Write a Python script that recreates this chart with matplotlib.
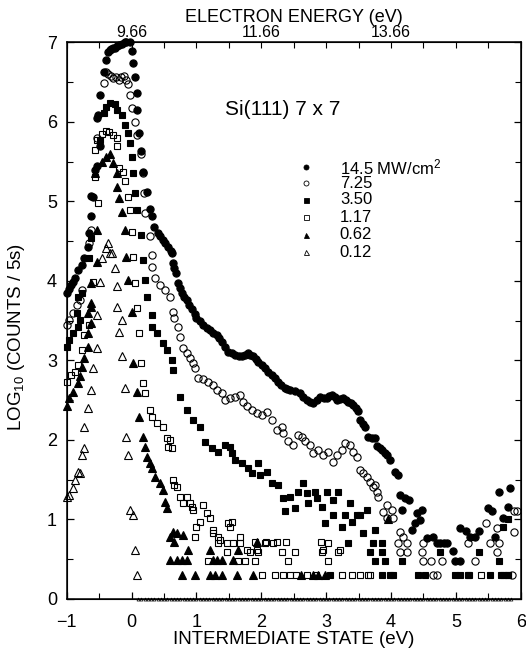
"""
Si(111) 7x7 two-photon photoemission: log10 counts vs intermediate state energy
for six laser power densities.
"""

import matplotlib
matplotlib.use("Agg")
import matplotlib.pyplot as plt
from matplotlib.ticker import MultipleLocator

# ============================================================
# Global config
# ============================================================
plt.rcParams['font.family'] = ['Liberation Sans', 'DejaVu Sans']
plt.rcParams['mathtext.fontset'] = 'custom'
plt.rcParams['mathtext.rm'] = 'Liberation Sans'
plt.rcParams['mathtext.default'] = 'regular'

OUTPUT_PATH = "out.png"

# ============================================================
# Data
# ============================================================
# 14.5 MW/cm2 -- filled circles
p145_x = [-1.00, -0.96, -0.93, -0.91, -0.87, -0.83, -0.77, -0.73, -0.68, -0.65,
          -0.62, -0.62, -0.59, -0.57, -0.53, -0.49, -0.54, -0.52, -0.49, -0.43,
          -0.40, -0.37, -0.34, -0.32, -0.29, -0.26, -0.23, -0.20, -0.15, -0.11,
          -0.08, -0.03, 0.00, 0.02, 0.05, 0.08, 0.09, 0.12, 0.15, 0.17,
          0.23, 0.28, 0.31, 0.34, 0.40, 0.44, 0.48, 0.52, 0.56, 0.60,
          0.62, 0.63, 0.66, 0.68, 0.71, 0.74, 0.77, 0.81, 0.85, 0.89,
          0.93, 0.97, 1.00, 1.05, 1.10, 1.16, 1.21, 1.26, 1.31, 1.35,
          1.39, 1.44, 1.48, 1.54, 1.59, 1.65, 1.70, 1.75, 1.79, 1.83,
          1.87, 1.91, 1.95, 2.01, 2.06, 2.11, 2.16, 2.21, 2.26, 2.31,
          2.36, 2.40, 2.44, 2.52, 2.60, 2.65, 2.70, 2.75, 2.80, 2.86,
          2.91, 2.96, 3.01, 3.05, 3.09, 3.13, 3.17, 3.22, 3.26, 3.30,
          3.34, 3.38, 3.42, 3.46, 3.49, 3.52, 3.56, 3.60, 3.65, 3.70,
          3.76, 3.79, 3.83, 3.86, 3.90, 3.94, 3.99, 4.06, 4.10, 4.14,
          4.22, 4.27, 4.17, 4.40, 4.45, 4.37, 4.33, 4.48, 4.56, 4.65,
          4.71, 4.76, 4.81, 4.87, 4.95, 4.99, 5.07, 5.07, 5.15, 5.22,
          5.30, 5.35, 5.49, 5.56, 5.66, 5.73, 5.80, 5.84, 5.61]
p145_y = [3.85, 3.90, 3.95, 3.98, 4.04, 4.14, 4.20, 4.29, 4.43, 4.60,
          4.81, 5.07, 5.06, 5.40, 5.44, 5.69, 6.05, 6.08, 6.34, 6.63,
          6.78, 6.88, 6.90, 6.92, 6.93, 6.93, 6.95, 6.96, 6.98, 7.00,
          7.00, 7.00, 6.89, 6.74, 6.57, 6.36, 6.15, 5.86, 5.63, 5.37,
          5.12, 4.91, 4.81, 4.68, 4.60, 4.56, 4.52, 4.47, 4.43, 4.38,
          4.35, 4.22, 4.16, 4.10, 3.97, 3.91, 3.85, 3.80, 3.76, 3.70,
          3.64, 3.58, 3.53, 3.49, 3.45, 3.41, 3.38, 3.35, 3.32, 3.28,
          3.23, 3.17, 3.11, 3.09, 3.07, 3.06, 3.05, 3.07, 3.09, 3.07,
          3.05, 3.02, 2.98, 2.94, 2.90, 2.86, 2.82, 2.78, 2.73, 2.69,
          2.65, 2.64, 2.63, 2.61, 2.59, 2.54, 2.50, 2.48, 2.46, 2.50,
          2.54, 2.53, 2.53, 2.55, 2.57, 2.54, 2.50, 2.52, 2.53, 2.50,
          2.48, 2.46, 2.44, 2.40, 2.36, 2.25, 2.20, 2.16, 2.04, 2.03,
          2.03, 1.92, 1.90, 1.87, 1.84, 1.81, 1.75, 1.60, 1.56, 1.31,
          1.27, 1.25, 1.12, 1.08, 0.99, 0.95, 0.87, 1.12, 0.77, 0.78,
          0.70, 0.70, 0.70, 0.70, 0.60, 0.48, 0.48, 0.89, 0.85, 0.78,
          0.78, 0.85, 1.14, 1.10, 1.35, 1.02, 1.16, 1.40, 0.78]

# 7.25 MW/cm2 -- open circles
p725_x = [-1.00, -0.96, -0.91, -0.85, -0.80, -0.77, -0.65, -0.62, -0.54, -0.42,
          -0.39, -0.36, -0.32, -0.28, -0.24, -0.20, -0.16, -0.12, -0.08, -0.05,
          -0.03, 0.00, 0.05, 0.08, 0.14, 0.17, 0.19, 0.20, 0.28, 0.31,
          0.32, 0.36, 0.43, 0.51, 0.59, 0.63, 0.66, 0.71, 0.74, 0.79,
          0.85, 0.90, 0.94, 0.97, 1.02, 1.10, 1.17, 1.25, 1.31, 1.39,
          1.44, 1.51, 1.59, 1.67, 1.72, 1.78, 1.85, 1.93, 2.01, 2.09,
          2.16, 2.24, 2.32, 2.33, 2.41, 2.49, 2.57, 2.63, 2.67, 2.75,
          2.80, 2.87, 2.95, 3.03, 3.11, 3.17, 3.25, 3.29, 3.37, 3.42,
          3.48, 3.52, 3.57, 3.63, 3.68, 3.72, 3.76, 3.79, 3.80, 3.94,
          3.88, 4.02, 3.94, 4.03, 4.14, 4.19, 4.25, 4.11, 4.14, 4.25,
          4.48, 4.50, 4.50, 4.61, 4.78, 4.65, 4.71, 5.18, 5.30, 5.46,
          5.53, 5.64, 5.66, 5.64, 5.89, 5.95, 5.89, 5.87]
p725_y = [3.45, 3.51, 3.60, 3.70, 3.76, 3.89, 4.48, 4.64, 5.80, 6.49,
          6.63, 6.60, 6.58, 6.55, 6.56, 6.53, 6.57, 6.58, 6.52, 6.47,
          6.34, 6.17, 6.00, 5.84, 5.60, 5.36, 5.10, 4.85, 4.56, 4.33,
          4.18, 4.04, 3.95, 3.89, 3.80, 3.61, 3.53, 3.42, 3.30, 3.16,
          3.09, 3.03, 2.97, 2.90, 2.78, 2.76, 2.73, 2.69, 2.63, 2.59,
          2.50, 2.53, 2.54, 2.57, 2.48, 2.42, 2.38, 2.34, 2.31, 2.35,
          2.25, 2.13, 2.16, 2.09, 1.98, 1.94, 2.06, 2.04, 1.98, 1.94,
          1.84, 1.87, 1.81, 1.85, 1.72, 1.81, 1.87, 1.96, 1.94, 1.85,
          1.79, 1.62, 1.58, 1.53, 1.47, 1.41, 1.43, 1.35, 1.28, 1.18,
          1.09, 1.12, 1.02, 1.02, 0.84, 0.78, 0.70, 0.70, 0.59, 0.59,
          0.59, 0.70, 0.48, 0.48, 0.48, 0.30, 0.30, 0.70, 0.48, 0.95,
          0.70, 0.59, 0.70, 0.89, 1.10, 1.10, 0.84, 0.30]

# 3.50 MW/cm2 -- filled squares
p350_x = [-1.00, -0.96, -0.91, -0.83, -0.80, -0.85, -0.83, -0.77, -0.65, -0.62,
          -0.49, -0.42, -0.39, -0.34, -0.26, -0.22, -0.15, -0.11, -0.06, -0.03,
          0.00, 0.02, 0.05, 0.09, 0.15, 0.17, 0.20, 0.23, 0.31, 0.32,
          0.39, 0.48, 0.54, 0.62, 0.63, 0.74, 0.85, 0.94, 1.05, 1.13,
          1.24, 1.33, 1.44, 1.51, 1.55, 1.59, 1.70, 1.79, 1.85, 1.95,
          1.98, 2.09, 2.16, 2.26, 2.33, 2.36, 2.44, 2.52, 2.57, 2.64,
          2.70, 2.72, 2.83, 2.86, 2.94, 2.98, 3.01, 3.11, 3.11, 3.18,
          3.25, 3.29, 3.37, 3.40, 3.48, 3.52, 3.57, 3.63, 3.34, 3.06,
          3.76, 3.72, 3.86, 3.68, 3.86, 3.76, 3.91, 4.17, 3.99, 4.42,
          4.53, 4.76, 4.79, 4.99, 5.07, 5.18, 5.35, 5.66, 5.53, 5.69,
          5.81, 5.80, 5.73, 3.86, 4.03]
p350_y = [3.17, 3.26, 3.35, 3.42, 3.51, 3.60, 3.80, 3.85, 4.29, 4.54,
          5.77, 6.11, 6.19, 6.24, 6.22, 6.15, 6.09, 5.96, 5.86, 5.73,
          5.56, 5.36, 5.10, 4.89, 4.58, 4.26, 4.01, 3.80, 3.57, 3.42,
          3.35, 3.22, 3.13, 3.01, 2.88, 2.54, 2.38, 2.25, 2.16, 1.97,
          1.90, 1.85, 1.94, 1.91, 1.84, 1.75, 1.71, 1.65, 1.58, 1.71,
          1.56, 1.60, 1.46, 1.43, 1.27, 1.10, 1.28, 1.14, 1.35, 1.46,
          1.33, 1.21, 1.35, 1.27, 1.16, 0.95, 1.35, 1.25, 1.06, 1.35,
          0.91, 1.06, 1.21, 0.97, 1.06, 1.06, 0.83, 1.12, 0.70, 0.30,
          0.87, 0.70, 0.70, 0.59, 0.59, 0.48, 0.48, 0.48, 0.30, 0.30,
          0.30, 0.59, 0.70, 0.30, 0.30, 0.30, 0.59, 0.48, 0.30, 0.30,
          0.30, 1.00, 0.90, 0.30, 0.30]

# 1.17 MW/cm2 -- open squares
p117_x = [-0.99, -0.93, -0.88, -0.83, -0.77, -0.73, -0.65, -0.60, -0.52, -0.57,
          -0.57, -0.54, -0.45, -0.40, -0.35, -0.29, -0.23, -0.22, -0.19, -0.14,
          -0.11, -0.06, -0.03, 0.00, 0.02, 0.05, 0.08, 0.12, 0.15, 0.17,
          0.20, 0.28, 0.32, 0.39, 0.48, 0.54, 0.56, 0.59, 0.62, 0.63,
          0.66, 0.70, 0.74, 0.79, 0.85, 0.90, 0.93, 0.94, 1.05, 1.10,
          1.16, 1.21, 1.25, 1.00, 0.97, 1.33, 1.36, 1.48, 1.55, 1.51,
          1.67, 1.33, 1.47, 1.56, 1.67, 1.78, 1.90, 1.47, 1.93, 2.06,
          2.18, 1.82, 1.95, 2.32, 2.52, 2.94, 3.18, 3.03, 1.17, 1.64,
          1.75, 1.90, 2.41, 2.01, 2.21, 2.44, 2.70, 3.25, 3.40, 3.52,
          3.65, 2.07, 2.24, 2.38, 2.92, 2.95, 3.21, 3.03, 2.33, 2.53,
          2.84, 3.68, 5.20, 5.38, 5.72, 5.80, 1.25]
p117_y = [2.73, 2.82, 2.86, 2.94, 3.13, 3.32, 3.45, 3.99, 4.98, 5.31,
          5.65, 5.77, 5.85, 5.88, 5.87, 5.84, 5.80, 5.69, 5.42, 5.37,
          5.25, 5.06, 4.89, 4.62, 4.30, 3.97, 3.66, 3.35, 2.97, 2.72,
          2.59, 2.38, 2.29, 2.21, 2.16, 2.03, 1.91, 2.00, 1.90, 1.50,
          1.43, 1.41, 1.28, 1.21, 1.28, 1.21, 1.16, 1.12, 0.97, 1.18,
          1.08, 1.02, 0.83, 0.91, 0.78, 0.78, 0.74, 0.95, 0.97, 0.91,
          0.78, 0.70, 0.70, 0.70, 0.70, 0.62, 0.72, 0.59, 0.62, 0.70,
          0.70, 0.59, 0.59, 0.59, 0.59, 0.59, 0.59, 0.70, 0.48, 0.48,
          0.48, 0.48, 0.48, 0.30, 0.30, 0.30, 0.30, 0.30, 0.30, 0.30,
          0.30, 0.72, 0.72, 0.72, 0.72, 0.62, 0.62, 0.48, 0.30, 0.30,
          0.30, 0.30, 0.30, 0.30, 0.30, 0.30, 0.87]

# 0.62 MW/cm2 -- filled triangles
p062_x = [-1.00, -0.96, -0.91, -0.83, -0.80, -0.76, -0.73, -0.68, -0.68, -0.62,
          -0.62, -0.62, -0.68, -0.62, -0.53, -0.53, -0.57, -0.45, -0.39, -0.34,
          -0.29, -0.23, -0.22, -0.19, -0.15, -0.11, -0.08, -0.06, 0.00, 0.02,
          0.08, 0.12, 0.17, 0.20, 0.23, 0.28, 0.32, 0.36, 0.43, 0.48,
          0.51, 0.54, 0.63, 0.70, 0.59, 0.66, 0.79, 0.87, 0.59, 0.70,
          0.77, 0.85, 1.21, 1.25, 1.31, 1.39, 1.56, 1.64, 1.93, 0.77,
          0.97, 1.21, 1.28, 1.39, 1.62, 1.87, 2.61, 2.80, 2.87, 2.98,
          3.96]
p062_y = [2.42, 2.53, 2.60, 2.71, 2.80, 2.92, 3.03, 3.17, 3.35, 3.47,
          3.67, 3.72, 3.60, 3.97, 4.24, 4.64, 5.36, 5.50, 5.56, 5.59,
          5.48, 5.36, 5.18, 5.04, 4.87, 4.64, 4.30, 4.01, 3.61, 2.97,
          2.60, 2.29, 2.04, 1.91, 1.79, 1.71, 1.65, 1.53, 1.46, 1.37,
          1.22, 1.14, 0.84, 0.83, 0.78, 0.72, 0.80, 0.62, 0.49, 0.49,
          0.49, 0.49, 0.62, 0.49, 0.49, 0.49, 0.49, 0.62, 0.72, 0.30,
          0.30, 0.30, 0.30, 0.30, 0.30, 0.30, 0.30, 0.30, 0.30, 0.30,
          1.00]

# 0.12 MW/cm2 -- open triangles
p012_x = [-1.00, -0.96, -0.91, -0.88, -0.83, -0.80, -0.76, -0.73, -0.73, -0.68,
          -0.62, -0.60, -0.54, -0.53, -0.49, -0.45, -0.39, -0.37, -0.34, -0.31,
          -0.26, -0.23, -0.22, -0.15, -0.19, -0.15, -0.11, -0.08, -0.06, -0.03,
          0.02, 0.05, 0.08]
p012_y = [1.28, 1.31, 1.40, 1.50, 1.60, 1.58, 1.81, 1.90, 2.16, 2.40,
          2.63, 2.90, 3.16, 3.57, 3.99, 4.29, 4.41, 4.48, 4.35, 4.35,
          4.16, 3.93, 3.67, 3.51, 3.36, 3.05, 2.65, 2.04, 1.81, 1.12,
          1.06, 0.62, 0.30]

# zero-count channels (log10 = 0) along the baseline
zero_x = [0.10, 0.15, 0.20, 0.25, 0.30, 0.35, 0.40, 0.45, 0.50, 0.55,
          0.60, 0.65, 0.70, 0.75, 0.80, 0.85, 0.90, 0.95, 1.00, 1.05,
          1.10, 1.15, 1.20, 1.25, 1.30, 1.35, 1.40, 1.45, 1.50, 1.55,
          1.60, 1.65, 1.70, 1.75, 1.80, 1.85, 1.90, 1.95, 2.00, 2.05,
          2.10, 2.15, 2.20, 2.25, 2.30, 2.35, 2.40, 2.45, 2.50, 2.55,
          2.60, 2.65, 2.70, 2.75, 2.80, 2.85, 2.90, 2.95, 3.00, 3.05,
          3.10, 3.15, 3.20, 3.25, 3.30, 3.35, 3.40, 3.45, 3.50, 3.55,
          3.60, 3.65, 3.70, 3.75, 3.80, 3.85, 3.90, 3.95, 4.00, 4.05,
          4.10, 4.15, 4.20, 4.25, 4.30, 4.35, 4.40, 4.45, 4.50, 4.55,
          4.60, 4.65, 4.70, 4.75, 4.80, 4.85, 4.90, 4.95, 5.00, 5.05,
          5.10, 5.15, 5.20, 5.25, 5.30, 5.35, 5.40, 5.45, 5.50, 5.55,
          5.60, 5.65, 5.70, 5.75, 5.80, 5.85]
zero_y = [0.0] * len(zero_x)

legend_labels = ["14.5 MW/cm$^2$", "7.25", "3.50", "1.17", "0.62", "0.12"]
top_ticks = [0, 2, 4]
top_labels = ["9.66", "11.66", "13.66"]

# marker style per series: (marker, filled)
STYLES = [("o", True), ("o", False), ("s", True), ("s", False), ("^", True), ("^", False)]
SIZES = [5.2, 5.2, 4.6, 4.6, 5.2, 5.2]


def draw_series(ax, x, y, marker, filled, ms, mew=0.8):
    ax.plot(x, y, linestyle="none", marker=marker, markersize=ms,
            markerfacecolor="black" if filled else "none",
            markeredgecolor="black", markeredgewidth=mew, clip_on=False)


# ============================================================
# Plot
# ============================================================
def plot_spectra():
    fig = plt.figure(figsize=(5.26, 6.51), dpi=100)
    ax = fig.add_axes([0.127, 0.080, 0.863, 0.855])

    series = [(p145_x, p145_y), (p725_x, p725_y), (p350_x, p350_y),
              (p117_x, p117_y), (p062_x, p062_y), (p012_x, p012_y)]
    for (x, y), (mk, filled), ms in zip(series, STYLES, SIZES):
        draw_series(ax, x, y, mk, filled, ms)
    draw_series(ax, zero_x, zero_y, "^", False, 2.2, mew=0.5)

    ax.set_xlim(-1, 6)
    ax.set_ylim(0, 7)

    # axes & ticks
    for sp in ax.spines.values():
        sp.set_linewidth(1.1)
    ax.xaxis.set_major_locator(MultipleLocator(1))
    ax.xaxis.set_minor_locator(MultipleLocator(0.5))
    ax.yaxis.set_major_locator(MultipleLocator(1))
    ax.yaxis.set_minor_locator(MultipleLocator(0.5))
    ax.tick_params(which="both", direction="in", right=True, labelsize=13)
    ax.tick_params(which="major", length=5, width=0.9)
    ax.tick_params(which="minor", length=4, width=0.8)
    ax.tick_params(axis="x", pad=11)
    ax.tick_params(axis="y", pad=7)

    ax.set_xlabel("INTERMEDIATE STATE (eV)", fontsize=13.5, labelpad=0)
    ax.set_ylabel("LOG$_{10}$ (COUNTS / 5s)", fontsize=13.5)
    ax.yaxis.set_label_coords(-0.088, 0.47)

    # top axis: electron energy
    ax2 = ax.twiny()
    ax2.set_xlim(ax.get_xlim())
    ax2.set_xticks(top_ticks)
    ax2.set_xticklabels(top_labels)
    ax2.xaxis.set_minor_locator(MultipleLocator(0.5))
    ax2.tick_params(which="both", direction="in", labelsize=11.5, pad=2)
    ax2.tick_params(which="major", length=4, width=0.8)
    ax2.tick_params(which="minor", length=4, width=0.8)
    ax2.set_xlabel("ELECTRON ENERGY (eV)", fontsize=13, labelpad=2)

    # annotation
    ax.text(1.44, 6.15, "Si(111) 7 x 7", fontsize=15, va="center", ha="left")

    # hand-made legend
    leg_y = [5.43, 5.23, 5.02, 4.80, 4.58, 4.36]
    for yy, (mk, filled), lab in zip(leg_y, STYLES, legend_labels):
        draw_series(ax, [2.69], [yy], mk, filled, 3.6, mew=0.6)
        ax.text(3.21, yy, lab, fontsize=12, va="center", ha="left")

    fig.savefig(OUTPUT_PATH, dpi=100)
    plt.close(fig)


def main():
    plot_spectra()


if __name__ == "__main__":
    main()
